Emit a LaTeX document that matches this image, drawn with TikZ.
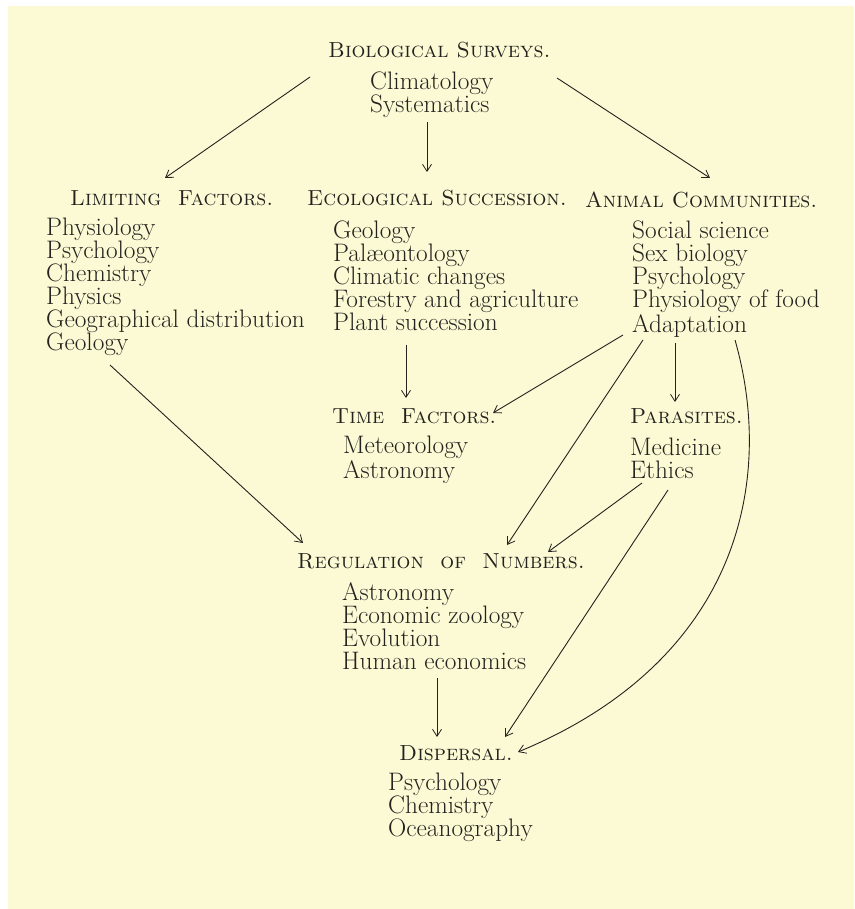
\documentclass[tikz,border=0pt]{standalone}
\usetikzlibrary{arrows.meta}
\definecolor{paper}{RGB}{251,250,212}
\definecolor{ink}{RGB}{36,34,31}
\begin{document}
\begin{tikzpicture}[x=1pt,y=-1pt,
  hd/.style={anchor=base west,inner sep=0pt,text=ink,font=\fontsize{21.8}{23}\selectfont\scshape},
  lst/.style={anchor=base west,inner sep=0pt,align=left,text=ink,font=\fontsize{25.3}{23}\selectfont},
  arr/.style={draw=ink,line width=0.9pt,-{Straight Barb[length=7pt,width=9pt,line width=0.8pt]}}]
\useasboundingbox (0,0) rectangle (854,909);
\fill[white] (0,0) rectangle (854,909);
\fill[paper] (8,6) rectangle (854,909);
% headings and lists (list nodes are placed by the baseline of their last line)
\node[hd] (bsH) at (328,58) {Biological Surveys.};
\node[lst] (bsL) at (370,113) {Climatology\\Systematics};
\node[hd] (lfH) at (70,206) {Limiting\ \ Factors.};
\node[lst] (lfL) at (46,350) {Physiology\\Psychology\\Chemistry\\Physics\\Geographical distribution\\Geology};
\node[hd] (esH) at (307,206) {Ecological Succession.};
\node[lst] (esL) at (333,330) {Geology\\Pal\ae ontology\\Climatic changes\\Forestry and agriculture\\Plant succession};
\node[hd] (acH) at (585,208) {Animal Communities.};
\node[lst] (acL) at (632,332) {Social science\\Sex biology\\Psychology\\Physiology of food\\Adaptation};
\node[hd] (tfH) at (332,423) {Time\ \ Factors.};
\node[lst] (tfL) at (343,478) {Meteorology\\Astronomy};
\node[hd] (paH) at (630,423) {Parasites.};
\node[lst] (paL) at (630,478) {Medicine\\Ethics};
\node[hd] (rnH) at (297,568) {Regulation\ \ of\ \ Numbers.};
\node[lst] (rnL) at (342,669) {Astronomy\\Economic zoology\\Evolution\\Human economics};
\node[hd] (dH) at (399,760) {Dispersal.};
\node[lst] (dL) at (388,836) {Psychology\\Chemistry\\Oceanography};
% connectors
\draw[arr] ([shift={(-18,19)}]bsH.base west) -- ([shift={(95,-28)}]lfH.base west);
\draw[arr] ([shift={(57,9)}]bsL.base west) -- ([shift={(120,-34)}]esH.base west);
\draw[arr] ([shift={(229,20)}]bsH.base west) -- ([shift={(125,-30)}]acH.base west);
\draw[arr] ([shift={(73,15)}]esL.base west) -- ([shift={(74,-25)}]tfH.base west);
\draw[arr] ([shift={(-9,3)}]acL.base west) -- ([shift={(161,-10)}]tfH.base west);
\draw[arr] ([shift={(11,8)}]acL.base west) -- ([shift={(210,-23)}]rnH.base west);
\draw[arr] ([shift={(43,11)}]acL.base west) -- ([shift={(45,-21)}]paH.base west);
\draw[arr] ([shift={(103,8)}]acL.base west) .. controls +(40,140) and +(222,-92) .. ([shift={(119,-8)}]dH.base west);
\draw[arr] ([shift={(12,5)}]paL.base west) -- ([shift={(251,-16)}]rnH.base west);
\draw[arr] ([shift={(38,12)}]paL.base west) -- ([shift={(106,-23)}]dH.base west);
\draw[arr] ([shift={(64,15)}]lfL.base west) -- ([shift={(6,-25)}]rnH.base west);
\draw[arr] ([shift={(95,9)}]rnL.base west) -- ([shift={(38,-23)}]dH.base west);
\end{tikzpicture}
\end{document}
